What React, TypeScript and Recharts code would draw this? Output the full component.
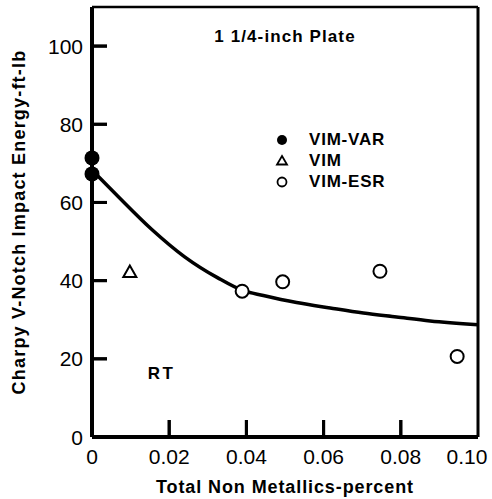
import React from 'react';
import {
  ComposedChart,
  Line,
  Scatter,
  XAxis,
  YAxis,
  ReferenceLine,
  ReferenceDot,
} from 'recharts';

// values (x = total non metallics %, y = ft-lb)
const vimVarX = [0, 0];
const vimVarY = [71.4, 67.3];
const vimX = [0.0098];
const vimY = [42.2];
const vimEsrX = [0.0389, 0.0494, 0.0746, 0.0946];
const vimEsrY = [37.3, 39.7, 42.4, 20.6];

// hand-drawn fit curve, traced points
const curveX = [0, 0.0067, 0.0155, 0.024, 0.0326, 0.039, 0.0444, 0.053, 0.0617, 0.0703, 0.0789, 0.0876, 0.1];
const curveY = [68.3, 61.6, 53.1, 46.1, 40.7, 37.5, 36.2, 34.4, 33.0, 31.7, 30.7, 29.7, 28.7];

const xTicks = [0, 0.02, 0.04, 0.06, 0.08, 0.1];
const xTickLabels = ['0', '0.02', '0.04', '0.06', '0.08', '0.10'];
const yTicks = [0, 20, 40, 60, 80, 100];

const legendNames = ['VIM-VAR', 'VIM', 'VIM-ESR'];

const zip = (xs: number[], ys: number[]) => xs.map((x, i) => ({ x, y: ys[i] }));

const FONT = '"Liberation Sans", Arial, sans-serif';
const X_GAP = 8;
const Y_GAP = 9;

function FilledDot(p: any) {
  return <circle cx={p.cx} cy={p.cy} r={7.5} fill="#000" />;
}
function OpenDot(p: any) {
  return <circle cx={p.cx} cy={p.cy} r={6.5} fill="#fff" stroke="#000" strokeWidth={2} />;
}
function Tri(p: any) {
  const { cx, cy } = p;
  const s = 6.5;
  return (
    <path
      d={`M${cx},${cy - s} L${cx + s},${cy + s * 0.75} L${cx - s},${cy + s * 0.75} Z`}
      fill="#fff"
      stroke="#000"
      strokeWidth={2}
    />
  );
}

// inward tick marks: stub at the axis end of a reference line
function XTickMark(p: any) {
  const yb = Math.max(p.y1, p.y2);
  return <line x1={p.x1} x2={p.x1} y1={yb} y2={yb - 17} stroke="#000" strokeWidth={3} />;
}
function YTickMark(p: any) {
  const xl = Math.min(p.x1, p.x2);
  return <line x1={xl} x2={xl + 15} y1={p.y1} y2={p.y1} stroke="#000" strokeWidth={3} />;
}

// axis labels, plus the same inward stub drawn from the axis side
function XTick(p: any) {
  const { x, y, payload, index } = p;
  const last = index === xTicks.length - 1;
  return (
    <g>
      {index > 0 && !last && (
        <line x1={x} x2={x} y1={y - X_GAP} y2={y - X_GAP - 17} stroke="#000" strokeWidth={3} />
      )}
      <text x={last ? x - 11 : x} y={y + 19} textAnchor="middle" fontFamily={FONT} fontSize={21} fill="#000">
        {xTickLabels[xTicks.indexOf(payload.value)]}
      </text>
    </g>
  );
}

function YTick(p: any) {
  const { x, y, payload, index } = p;
  return (
    <g>
      {index > 0 && <line x1={x + Y_GAP} x2={x + Y_GAP + 15} y1={y} y2={y} stroke="#000" strokeWidth={3} />}
      <text x={x} y={y + 7.5} textAnchor="end" fontFamily={FONT} fontSize={21} fill="#000">
        {payload.value}
      </text>
    </g>
  );
}

function LegendBox() {
  const icons = [
    <circle cx={8} cy={9} r={5} fill="#000" />,
    <path d="M8,4 L13,12.5 L3,12.5 Z" fill="none" stroke="#000" strokeWidth={1.8} />,
    <circle cx={8} cy={9} r={4.5} fill="none" stroke="#000" strokeWidth={1.8} />,
  ];
  return (
    <div
      style={{
        position: 'absolute',
        left: 274,
        top: 129,
        fontFamily: FONT,
        fontWeight: 700,
        fontSize: 17,
        letterSpacing: 0.8,
        lineHeight: 1,
      }}
    >
      {legendNames.map((n, i) => (
        <div key={n} style={{ display: 'flex', alignItems: 'center', height: 21 }}>
          <svg width={16} height={18} style={{ marginRight: 19 }}>
            {icons[i]}
          </svg>
          <span>{n}</span>
        </div>
      ))}
    </div>
  );
}

export default function App() {
  return (
    <div style={{ position: 'absolute', left: 0, top: 0, width: 492, height: 499, background: '#fff' }}>
      <ComposedChart width={492} height={499} margin={{ top: 7, right: 14, bottom: 0, left: 0 }}>
        <XAxis
          dataKey="x"
          type="number"
          domain={[0, 0.1]}
          ticks={xTicks}
          height={62}
          tickSize={0}
          tickMargin={X_GAP}
          axisLine={{ stroke: '#000', strokeWidth: 4 }}
          tick={<XTick />}
          label={{
            value: 'Total Non Metallics-percent',
            position: 'center',
            dy: 19,
            style: { fontFamily: FONT, fontWeight: 700, fontSize: 18, fill: '#000', letterSpacing: 0.9 },
          }}
        />
        <YAxis
          dataKey="y"
          type="number"
          domain={[0, 110]}
          ticks={yTicks}
          width={92}
          tickSize={0}
          tickMargin={Y_GAP}
          axisLine={{ stroke: '#000', strokeWidth: 4 }}
          tick={<YTick />}
          label={{
            value: 'Charpy V-Notch Impact Energy-ft-lb',
            angle: -90,
            position: 'center',
            dx: -27,
            style: { fontFamily: FONT, fontWeight: 700, fontSize: 18, fill: '#000', letterSpacing: 1.2, textAnchor: 'middle' },
          }}
        />
        <ReferenceLine y={110} stroke="#000" strokeWidth={2.5} />
        <ReferenceLine x={0.1} stroke="#000" strokeWidth={3} />
        <ReferenceLine x={xTicks[1]} ifOverflow="visible" stroke="#000" shape={XTickMark} />
        <ReferenceLine x={xTicks[2]} ifOverflow="visible" stroke="#000" shape={XTickMark} />
        <ReferenceLine x={xTicks[3]} ifOverflow="visible" stroke="#000" shape={XTickMark} />
        <ReferenceLine x={xTicks[4]} ifOverflow="visible" stroke="#000" shape={XTickMark} />
        <ReferenceLine y={yTicks[1]} ifOverflow="visible" stroke="#000" shape={YTickMark} />
        <ReferenceLine y={yTicks[2]} ifOverflow="visible" stroke="#000" shape={YTickMark} />
        <ReferenceLine y={yTicks[3]} ifOverflow="visible" stroke="#000" shape={YTickMark} />
        <ReferenceLine y={yTicks[4]} ifOverflow="visible" stroke="#000" shape={YTickMark} />
        <ReferenceLine y={yTicks[5]} ifOverflow="visible" stroke="#000" shape={YTickMark} />
        <Line
          data={zip(curveX, curveY)}
          dataKey="y"
          type="monotone"
          stroke="#000"
          strokeWidth={3.5}
          dot={false}
          activeDot={false}
          isAnimationActive={false}
        />
        <Scatter name="VIM-VAR" data={zip(vimVarX, vimVarY)} dataKey="y" shape={FilledDot} isAnimationActive={false} />
        <Scatter name="VIM" data={zip(vimX, vimY)} dataKey="y" shape={Tri} isAnimationActive={false} />
        <Scatter name="VIM-ESR" data={zip(vimEsrX, vimEsrY)} dataKey="y" shape={OpenDot} isAnimationActive={false} />
        <ReferenceDot
          x={0.05}
          y={102.5}
          r={0}
          label={{
            value: '1 1/4-inch Plate',
            position: 'center',
            style: { fontFamily: FONT, fontWeight: 700, fontSize: 17, fill: '#000', letterSpacing: 1.1 },
          }}
        />
        <ReferenceDot
          x={0.018}
          y={16.3}
          r={0}
          label={{
            value: 'RT',
            position: 'center',
            style: { fontFamily: FONT, fontWeight: 700, fontSize: 17, fill: '#000', letterSpacing: 2.5 },
          }}
        />
      </ComposedChart>
      <LegendBox />
    </div>
  );
}
